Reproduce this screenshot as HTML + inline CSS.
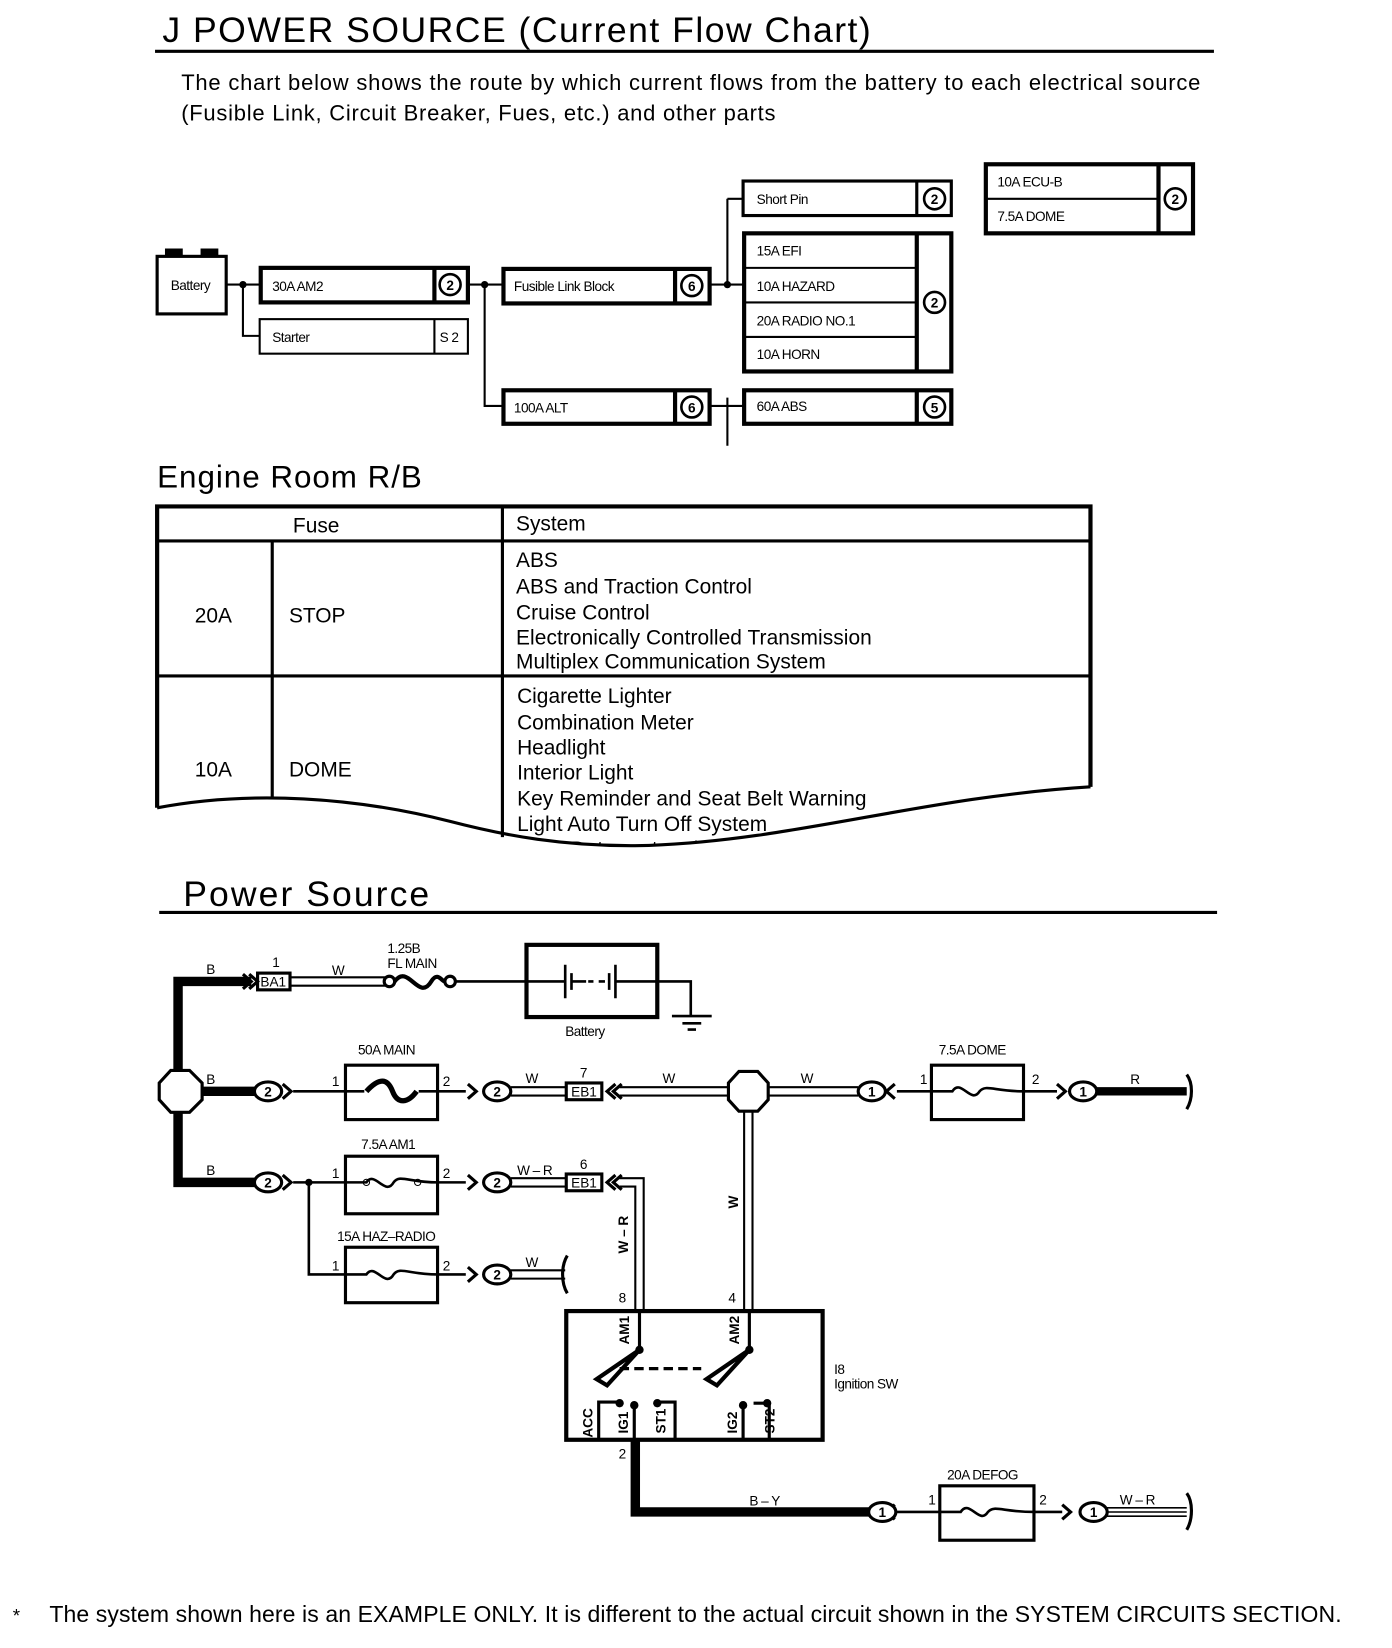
<!DOCTYPE html>
<html><head><meta charset="utf-8"><style>
html,body{margin:0;padding:0;background:#fff}
svg{display:block}
text{font-family:"Liberation Sans",sans-serif;fill:#000}
</style></head><body>
<svg width="1392" height="1648" viewBox="0 0 1330 1575" xmlns="http://www.w3.org/2000/svg">
<rect width="1330" height="1575" fill="#fff"/>
<!-- title -->
<text x="155" y="40" font-size="34" textLength="677">J POWER SOURCE (Current Flow Chart)</text>
<line x1="148" y1="49" x2="1160" y2="49" stroke="#000" stroke-width="3"/>
<text x="173" y="86" font-size="21" textLength="974">The chart below shows the route by which current flows from the battery to each electrical source</text>
<text x="173" y="115" font-size="21" textLength="568">(Fusible Link, Circuit Breaker, Fues, etc.) and other parts</text>

<!-- flow chart -->
<g stroke="#000" fill="none">
<rect x="158" y="238" width="16" height="7" fill="#000"/>
<rect x="192" y="238" width="16" height="7" fill="#000"/>
<rect x="150" y="245" width="66" height="55" stroke-width="3" fill="#fff"/>
<path d="M216 272H248M232 272V321H248" stroke-width="2"/>
<rect x="249" y="256" width="198" height="33" stroke-width="4"/>
<line x1="415" y1="256" x2="415" y2="289" stroke-width="4"/>
<rect x="248" y="305" width="199" height="33" stroke-width="2"/>
<line x1="415" y1="305" x2="415" y2="338" stroke-width="2"/>
<path d="M447 272H480M463 272V388H480" stroke-width="2"/>
<rect x="481" y="257" width="197" height="33" stroke-width="4"/>
<line x1="645" y1="257" x2="645" y2="290" stroke-width="4"/>
<rect x="481" y="373" width="197" height="32" stroke-width="4"/>
<line x1="645" y1="373" x2="645" y2="405" stroke-width="4"/>
<path d="M678 272H710M695 190V272M695 190H710M678 388H710M695 380V426" stroke-width="2"/>
<rect x="710" y="173" width="199" height="33" stroke-width="3"/>
<line x1="876" y1="173" x2="876" y2="206" stroke-width="3"/>
<rect x="711" y="223" width="198" height="132" stroke-width="4"/>
<path d="M711 256H876M711 289H876M711 322H876" stroke-width="2"/>
<line x1="876" y1="223" x2="876" y2="355" stroke-width="4"/>
<rect x="711" y="373" width="198" height="32" stroke-width="4"/>
<line x1="876" y1="373" x2="876" y2="405" stroke-width="4"/>
<rect x="942" y="157" width="198" height="66" stroke-width="4"/>
<line x1="942" y1="190" x2="1107" y2="190" stroke-width="2"/>
<line x1="1107" y1="157" x2="1107" y2="223" stroke-width="4"/>
<g stroke-width="2.5">
<circle cx="430" cy="272" r="10"/><circle cx="661" cy="273" r="10"/><circle cx="661" cy="389" r="10"/>
<circle cx="893" cy="190" r="10"/><circle cx="893" cy="289" r="10"/><circle cx="893" cy="389" r="10"/><circle cx="1123" cy="190" r="10"/>
</g>
</g>
<g fill="#000"><circle cx="232" cy="272" r="3.5"/><circle cx="463" cy="272" r="3.5"/><circle cx="695" cy="272" r="3.5"/></g>
<g font-size="13" letter-spacing="-0.5">
<text x="163" y="277">Battery</text>
<text x="260" y="278">30A AM2</text><text x="260" y="327">Starter</text><text x="420" y="327">S 2</text>
<text x="491" y="278">Fusible Link Block</text><text x="491" y="394">100A ALT</text>
<text x="723" y="195">Short Pin</text>
<text x="723" y="244">15A EFI</text><text x="723" y="278">10A HAZARD</text><text x="723" y="311">20A RADIO NO.1</text><text x="723" y="343">10A HORN</text>
<text x="723" y="393">60A ABS</text>
<text x="953" y="178">10A ECU-B</text><text x="953" y="211">7.5A DOME</text>
</g>
<g font-size="13" text-anchor="middle" font-weight="bold">
<text x="430" y="277">2</text><text x="661" y="278">6</text><text x="661" y="394">6</text><text x="893" y="195">2</text><text x="893" y="294">2</text><text x="893" y="394">5</text><text x="1123" y="195">2</text>
</g>

<!-- Engine room table -->
<text x="150" y="466" font-size="30" textLength="253">Engine Room R/B</text>
<g font-size="20">
<text x="302" y="509" text-anchor="middle">Fuse</text><text x="493" y="507">System</text>
<text x="186" y="595">20A</text><text x="276" y="595">STOP</text>
<text x="493" y="542">ABS</text><text x="493" y="567">ABS and Traction Control</text><text x="493" y="592">Cruise Control</text>
<text x="493" y="616" textLength="340">Electronically Controlled Transmission</text><text x="493" y="639" textLength="296">Multiplex Communication System</text>
<text x="186" y="742">10A</text><text x="276" y="742">DOME</text>
<text x="494" y="672">Cigarette Lighter</text><text x="494" y="697">Combination Meter</text><text x="494" y="721">Headlight</text>
<text x="494" y="745">Interior Light</text><text x="494" y="770" textLength="334">Key Reminder and Seat Belt Warning</text>
<text x="494" y="794" textLength="239">Light Auto Turn Off System</text><text x="494" y="818">Theft Deterrent and Door Lock</text>
</g>
<path d="M150 772 C240 755 340 762 430 785 C480 798 540 810 620 808 C760 803 880 762 1042 752 L1042 830 L148 830 Z" fill="#fff"/>
<path d="M150 772 C240 755 340 762 430 785 C480 798 540 810 620 808 C760 803 880 762 1042 752" stroke="#000" stroke-width="3" fill="none"/>
<g stroke="#000" fill="none">
<path d="M150 772V484H1042V752" stroke-width="4"/>
<line x1="150" y1="517" x2="1042" y2="517" stroke-width="3"/>
<line x1="150" y1="646" x2="1042" y2="646" stroke-width="3"/>
<line x1="480" y1="484" x2="480" y2="800" stroke-width="3"/>
<line x1="260" y1="517" x2="260" y2="762" stroke-width="3"/>
</g>

<!-- Power source -->
<text x="175" y="866" font-size="34" textLength="235">Power Source</text>
<line x1="152" y1="872" x2="1163" y2="872" stroke="#000" stroke-width="3"/>

<g stroke="#000" fill="none">
<path d="M240 938H170V1130H248" stroke-width="9"/>
<path d="M190 1043H245" stroke-width="9"/>
<polygon points="163,1023 181,1023 193,1035 193,1051 181,1063 163,1063 152,1051 152,1035" stroke-width="3" fill="#fff"/>
<path d="M232 931l8 7-8 7M238 931l8 7-8 7" stroke-width="3"/>
<rect x="246" y="930" width="31" height="16" stroke-width="3"/>
<path d="M277 934H368M277 942H368" stroke-width="2"/>
<circle cx="372" cy="938" r="5" stroke-width="3"/><circle cx="430" cy="938" r="5" stroke-width="3"/>
<path d="M377 938C390 920 400 958 412 938 C418 928 422 938 425 938" stroke-width="4"/>
<path d="M435 938H503" stroke-width="2.5"/>
<rect x="503" y="903" width="125" height="69" stroke-width="4"/>
<path d="M503 938H540M540 922V954M546 930V946M546 938H560M562 938H567M572 938H578M582 930V946M588 922V954M588 938H628M628 938H660V970M642 971H680M652 978H670M657 984H665" stroke-width="2.5"/>
<path d="M270 1036l8 7-8 7" stroke-width="3"/>
<path d="M280 1043H330M418 1043H445" stroke-width="2.5"/>
<rect x="330" y="1018" width="88" height="52" stroke-width="3"/>
<path d="M330 1043H348M400 1043H418" stroke-width="2.5"/>
<path d="M350 1043C362 1030 370 1030 375 1043 C380 1056 390 1054 398 1043" stroke-width="5"/>
<path d="M447 1036l8 7-8 7" stroke-width="3"/>
<path d="M488 1039H540M488 1047H540" stroke-width="2"/>
<rect x="541" y="1035" width="34" height="16" stroke-width="3"/>
<path d="M588 1036l-8 7 8 7M594 1036l-8 7 8 7" stroke-width="3"/>
<path d="M592 1039H696M592 1047H696" stroke-width="2"/>
<polygon points="706,1024 724,1024 734,1035 734,1051 724,1062 706,1062 696,1051 696,1035" stroke-width="3" fill="#fff"/>
<path d="M734 1039H820M734 1047H820" stroke-width="2"/>
<path d="M855 1036l-8 7 8 7" stroke-width="3"/>
<path d="M857 1043H890" stroke-width="2.5"/>
<rect x="890" y="1018" width="88" height="52" stroke-width="3"/>
<path d="M890 1043H910C918 1030 928 1056 936 1043 C942 1036 950 1043 978 1043H1010" stroke-width="2.5"/>
<path d="M1010 1036l8 7-8 7" stroke-width="3"/>
<path d="M1048 1043H1134" stroke-width="8"/>
<path d="M1134 1027C1140 1035 1140 1050 1134 1060" stroke-width="3"/>
<path d="M711 1062V1253M719 1062V1253" stroke-width="2"/>
<path d="M270 1123l8 7-8 7" stroke-width="3"/>
<path d="M280 1130H330M295 1130V1218H330M418 1130H445" stroke-width="2.5"/>
<rect x="330" y="1105" width="88" height="55" stroke-width="3"/>
<path d="M330 1130H350C358 1118 368 1144 376 1130 C382 1122 390 1130 418 1130" stroke-width="2.5"/>
<circle cx="350" cy="1130" r="3"/><circle cx="399" cy="1130" r="3"/>
<path d="M447 1123l8 7-8 7" stroke-width="3"/>
<path d="M488 1126H540M488 1134H540" stroke-width="2"/>
<rect x="541" y="1122" width="34" height="16" stroke-width="3"/>
<path d="M588 1123l-8 7 8 7M594 1123l-8 7 8 7" stroke-width="3"/>
<path d="M592 1126H615V1253M592 1134H607V1253" stroke-width="2"/>
<rect x="330" y="1192" width="88" height="53" stroke-width="3"/>
<path d="M330 1218H350C358 1206 368 1232 376 1218 C382 1210 390 1218 418 1218H445" stroke-width="2.5"/>
<path d="M447 1211l8 7-8 7" stroke-width="3"/>
<path d="M488 1214H540M488 1222H540" stroke-width="2"/>
<path d="M542 1200C536 1210 536 1226 542 1236" stroke-width="3"/>
<rect x="541" y="1253" width="245" height="123" stroke-width="4"/>
<path d="M611 1253V1290M716 1253V1290" stroke-width="3"/>
<path d="M611 1290L570 1318 L580 1324Z M716 1290L675 1318 L685 1324Z" stroke-width="4" fill="#fff"/>
<path d="M592 1308H670" stroke-width="3" stroke-dasharray="9,5"/>
<path d="M572 1376V1340H592M631 1340H645V1376M606 1342V1376M720 1341H735V1376M710 1343V1376" stroke-width="3"/>
<path d="M607 1376V1445H830" stroke-width="9"/>
<path d="M855 1438l-8 7 8 7" stroke-width="3"/>
<path d="M857 1445H898" stroke-width="2.5"/>
<rect x="898" y="1420" width="90" height="52" stroke-width="3"/>
<path d="M898 1445H918C926 1432 936 1458 944 1445 C950 1438 958 1445 988 1445H1015" stroke-width="2.5"/>
<path d="M1015 1438l8 7-8 7" stroke-width="3"/>
<path d="M1057 1441H1134M1057 1445H1134M1057 1449H1134" stroke-width="1.5"/>
<path d="M1134 1427C1140 1435 1140 1452 1134 1462" stroke-width="3"/>
</g>
<g fill="#000">
<circle cx="295" cy="1130" r="3.5"/><circle cx="611" cy="1290" r="4"/><circle cx="716" cy="1290" r="4"/>
<circle cx="592" cy="1341" r="4"/><circle cx="606" cy="1343" r="4"/><circle cx="628" cy="1341" r="4"/><circle cx="710" cy="1343" r="4"/><circle cx="733" cy="1341" r="4"/>
</g>
<g stroke="#000" stroke-width="3" fill="#fff">
<ellipse cx="256" cy="1043" rx="13" ry="9"/><ellipse cx="475" cy="1043" rx="13" ry="9"/><ellipse cx="833" cy="1043" rx="13" ry="9"/><ellipse cx="1035" cy="1043" rx="13" ry="9"/>
<ellipse cx="256" cy="1130" rx="13" ry="9"/><ellipse cx="475" cy="1130" rx="13" ry="9"/><ellipse cx="475" cy="1218" rx="13" ry="9"/>
<ellipse cx="843" cy="1445" rx="13" ry="9"/><ellipse cx="1045" cy="1445" rx="13" ry="9"/>
</g>
<g font-size="13" text-anchor="middle" font-weight="bold">
<text x="256" y="1048">2</text><text x="475" y="1048">2</text><text x="833" y="1048">1</text><text x="1035" y="1048">1</text>
<text x="256" y="1135">2</text><text x="475" y="1135">2</text><text x="475" y="1223">2</text>
<text x="843" y="1450">1</text><text x="1045" y="1450">1</text>
</g>
<g font-size="13" text-anchor="middle">
<text x="261" y="943">BA1</text><text x="558" y="1048">EB1</text><text x="558" y="1135">EB1</text>
</g>
<g font-size="13" letter-spacing="-0.5">
<text x="197" y="931">B</text><text x="260" y="924">1</text><text x="317" y="932">W</text>
<text x="370" y="911">1.25B</text><text x="370" y="925">FL MAIN</text><text x="540" y="990">Battery</text>
<text x="197" y="1036">B</text><text x="342" y="1008">50A MAIN</text><text x="317" y="1038">1</text><text x="423" y="1038">2</text>
<text x="502" y="1035">W</text><text x="554" y="1030">7</text><text x="633" y="1035">W</text><text x="765" y="1035">W</text>
<text x="897" y="1008">7.5A DOME</text><text x="879" y="1036">1</text><text x="986" y="1036">2</text><text x="1080" y="1036">R</text>
<text x="197" y="1123">B</text><text x="345" y="1098">7.5A AM1</text><text x="317" y="1126">1</text><text x="423" y="1126">2</text>
<text x="494" y="1123">W – R</text><text x="554" y="1117">6</text>
<text x="322" y="1186">15A HAZ–RADIO</text><text x="317" y="1214">1</text><text x="423" y="1214">2</text><text x="502" y="1211">W</text>
<text x="591" y="1245">8</text><text x="696" y="1245">4</text>
<text x="797" y="1313">I8</text><text x="797" y="1327">Ignition SW</text>
<text x="591" y="1394">2</text><text x="716" y="1439">B – Y</text>
<text x="905" y="1414">20A DEFOG</text><text x="887" y="1438">1</text><text x="993" y="1438">2</text><text x="1070" y="1438">W – R</text>
</g>
<g font-size="13" font-weight="bold">
<text transform="translate(705,1155) rotate(-90)">W</text>
<text transform="translate(600,1198) rotate(-90)">W – R</text>
<text transform="translate(601,1285) rotate(-90)">AM1</text>
<text transform="translate(706,1285) rotate(-90)">AM2</text>
<text transform="translate(566,1374) rotate(-90)">ACC</text>
<text transform="translate(600,1370) rotate(-90)">IG1</text>
<text transform="translate(636,1370) rotate(-90)">ST1</text>
<text transform="translate(704,1370) rotate(-90)">IG2</text>
<text transform="translate(740,1370) rotate(-90)">ST2</text>
</g>
<text x="12" y="1550" font-size="18">*</text>
<text x="47" y="1550" font-size="22" textLength="1235">The system shown here is an EXAMPLE ONLY. It is different to the actual circuit shown in the SYSTEM CIRCUITS SECTION.</text>
</svg>
</body></html>
